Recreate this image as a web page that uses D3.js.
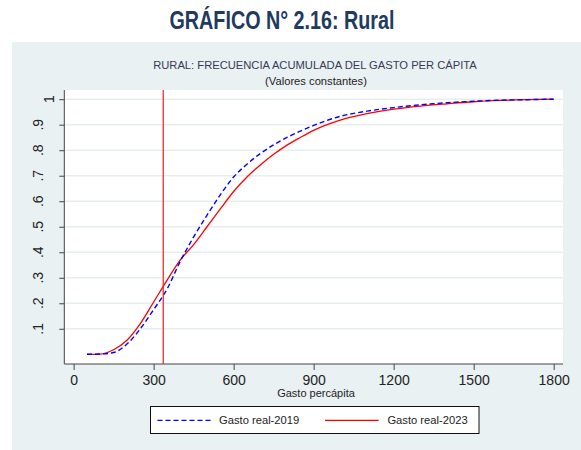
<!DOCTYPE html>
<html>
<head>
<meta charset="utf-8">
<script src="https://cdn.jsdelivr.net/npm/d3@7"></script>
<style>
  html, body { margin: 0; padding: 0; background: #ffffff; }
  svg { display: block; }
</style>
</head>
<body>
<svg id="chart" width="581" height="450"></svg>
<script>
// ---- data ----
const gasto = [50,100,150,200,250,300,350,400,450,500,550,600,650,700,750,800,850,900,1000,1100,1200,1300,1400,1500,1600,1700,1800];
const real2019 = [0,0.001,0.007,0.04,0.10,0.175,0.255,0.365,0.46,0.545,0.625,0.695,0.745,0.787,0.821,0.85,0.875,0.897,0.933,0.953,0.967,0.978,0.986,0.992,0.996,0.998,1.0];
const real2023 = [0,0.001,0.018,0.055,0.12,0.205,0.29,0.37,0.43,0.50,0.57,0.638,0.695,0.742,0.784,0.82,0.85,0.878,0.918,0.943,0.961,0.973,0.982,0.99,0.995,0.998,1.0];
const lineaPobreza = 336;
const xTicks = [0,300,600,900,1200,1500,1800];
const yTicks = [0.1,0.2,0.3,0.4,0.5,0.6,0.7,0.8,0.9,1];
const yTickLabels = [".1",".2",".3",".4",".5",".6",".7",".8",".9","1"];
const seriesNames = ["Gasto real-2019","Gasto real-2023"];
const titleText = "GRÁFICO N° 2.16: Rural";
const subtitle1 = "RURAL: FRECUENCIA ACUMULADA DEL GASTO PER CÁPITA";
const subtitle2 = "(Valores constantes)";
const xTitle = "Gasto percápita";

// ---- layout ----
const svg = d3.select("#chart");
const font = "'Liberation Sans', Arial, Helvetica, sans-serif";
const plot = {left: 64.3, right: 563, top: 90, bottom: 364};

const x = d3.scaleLinear().domain([-35, 1835]).range([plot.left, plot.right]);
const y = d3.scaleLinear().domain([-0.038, 1.036]).range([plot.bottom, plot.top]);

// panel background
svg.append("rect").attr("x", 12).attr("y", 42).attr("width", 581 - 12).attr("height", 450 - 42)
  .attr("fill", "#eaf1f3");

// title
svg.append("text").attr("x", 169.5).attr("y", 28.5)
  .attr("font-family", "'Liberation Sans Narrow','Arial Narrow','Liberation Sans',Arial,sans-serif")
  .attr("font-weight", "bold").attr("font-size", 25).attr("fill", "#213a5f")
  .attr("textLength", 225).attr("lengthAdjust", "spacingAndGlyphs")
  .text(titleText);

// subtitles
svg.append("text").attr("x", 315).attr("y", 69).attr("text-anchor", "middle")
  .attr("font-family", font).attr("font-size", 11.2).attr("fill", "#363b55")
  .text(subtitle1);
svg.append("text").attr("x", 316).attr("y", 85).attr("text-anchor", "middle")
  .attr("font-family", font).attr("font-size", 11.2).attr("fill", "#222")
  .text(subtitle2);

// plot area
svg.append("rect").attr("x", plot.left).attr("y", plot.top)
  .attr("width", plot.right - plot.left).attr("height", plot.bottom - plot.top)
  .attr("fill", "#ffffff");

// gridlines
svg.append("g").selectAll("line").data(yTicks).join("line")
  .attr("x1", plot.left + 1).attr("x2", plot.right)
  .attr("y1", d => y(d)).attr("y2", d => y(d))
  .attr("stroke", "#e6eef0").attr("stroke-width", 1.5);

// x axis
const xAxis = svg.append("g").attr("transform", `translate(0,${plot.bottom})`)
  .call(d3.axisBottom(x).tickValues(xTicks).tickSize(6).tickPadding(5).tickFormat(d3.format("d")));
xAxis.select(".domain").attr("stroke", "#444").attr("d", `M${plot.left},0H${plot.right}`);
xAxis.selectAll(".tick line").attr("stroke", "#444");
xAxis.selectAll(".tick text").attr("font-family", font).attr("font-size", 14).attr("fill", "#222")
  .attr("dy", "0").attr("y", 20.5);

// y axis
const yAxis = svg.append("g").attr("transform", `translate(${plot.left},0)`)
  .call(d3.axisLeft(y).tickValues(yTicks).tickSize(5).tickFormat((d, i) => yTickLabels[i]));
yAxis.select(".domain").attr("stroke", "#444").attr("d", `M0,${plot.top}V${plot.bottom}`);
yAxis.selectAll(".tick line").attr("stroke", "#444");
yAxis.selectAll(".tick text").remove();
svg.append("g").selectAll("text").data(yTicks).join("text")
  .attr("transform", (d, i) => {
    const bx = yTickLabels[i].startsWith(".") ? 43 : 54;
    return `translate(${bx},${y(d)}) rotate(-90)`;
  })
  .attr("text-anchor", "middle")
  .attr("font-family", font).attr("font-size", 14).attr("fill", "#222")
  .text((d, i) => yTickLabels[i]);

// x title
svg.append("text").attr("x", 316).attr("y", 397).attr("text-anchor", "middle")
  .attr("font-family", font).attr("font-size", 11).attr("fill", "#222")
  .text(xTitle);

// lines
const line = d3.line().x(d => x(d[0])).y(d => y(d[1])).curve(d3.curveMonotoneX);
const d2019 = gasto.map((g, i) => [g, real2019[i]]);
const d2023 = gasto.map((g, i) => [g, real2023[i]]);

svg.append("path").datum(d2023).attr("d", line)
  .attr("fill", "none").attr("stroke", "#ff0000").attr("stroke-width", 1.3);
svg.append("path").datum(d2019).attr("d", line)
  .attr("fill", "none").attr("stroke", "#0000ff").attr("stroke-width", 1.4)
  .attr("stroke-dasharray", "5,3");

// vertical reference line
svg.append("line").attr("x1", x(lineaPobreza)).attr("x2", x(lineaPobreza))
  .attr("y1", plot.top).attr("y2", plot.bottom)
  .attr("stroke", "#ff1a1a").attr("stroke-width", 1.2);

// legend
const lg = svg.append("g");
lg.append("rect").attr("x", 150.5).attr("y", 406.5).attr("width", 328.5).attr("height", 27)
  .attr("fill", "#ffffff").attr("stroke", "#111").attr("stroke-width", 1);
lg.append("line").attr("x1", 157.5).attr("x2", 211).attr("y1", 420.3).attr("y2", 420.3)
  .attr("stroke", "#0000ff").attr("stroke-width", 1.3).attr("stroke-dasharray", "5,3");
lg.append("text").attr("x", 219).attr("y", 424.3)
  .attr("font-family", font).attr("font-size", 11.2).attr("fill", "#222").text(seriesNames[0]);
lg.append("line").attr("x1", 325).attr("x2", 378.7).attr("y1", 420.3).attr("y2", 420.3)
  .attr("stroke", "#ff0000").attr("stroke-width", 1.3);
lg.append("text").attr("x", 387.4).attr("y", 424.3)
  .attr("font-family", font).attr("font-size", 11.2).attr("fill", "#222").text(seriesNames[1]);
</script>
</body>
</html>
